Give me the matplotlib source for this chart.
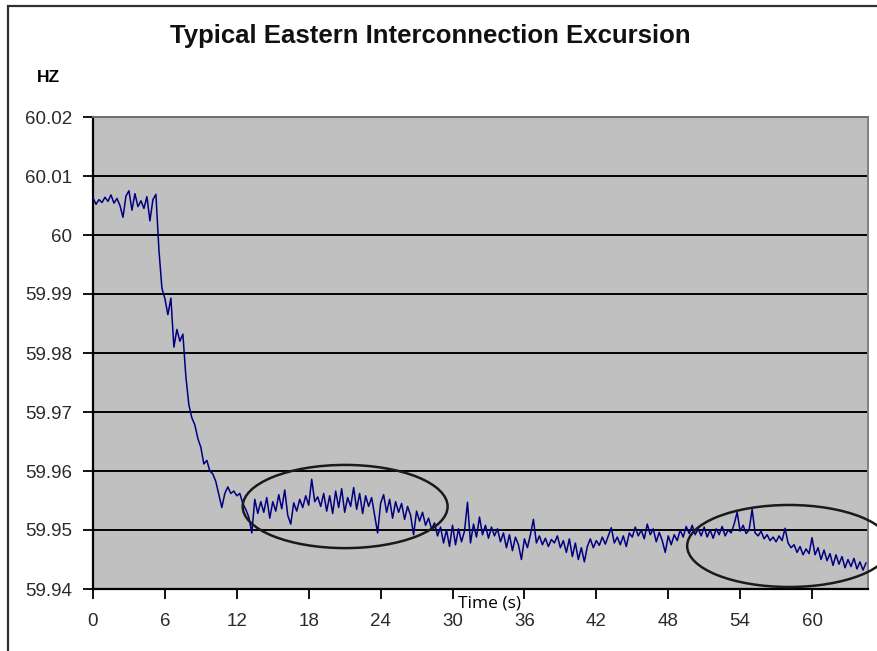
import numpy as np
import matplotlib
matplotlib.use("Agg")
import matplotlib.pyplot as plt
from matplotlib.patches import Ellipse, Rectangle

# frequency samples (Hz), one every 0.25 s starting at t = 0
freq_start = [60.0063, 60.0052, 60.0060, 60.0055, 60.0064, 60.0057, 60.0068, 60.0054,
              60.0062, 60.0050, 60.0030, 60.0066, 60.0075, 60.0042, 60.0070, 60.0048,
              60.0058, 60.0045, 60.0065, 60.0024, 60.0060, 60.0069]
freq_drop = [59.9975, 59.9910, 59.9892, 59.9865, 59.9893, 59.9810, 59.9840, 59.9820,
             59.9832, 59.9760, 59.9712, 59.9690, 59.9678, 59.9655, 59.9640, 59.9612,
             59.9618, 59.9600, 59.9595, 59.9582, 59.9560, 59.9538, 59.9562, 59.9573,
             59.9562, 59.9566, 59.9558, 59.9562, 59.9545, 59.9535, 59.9522, 59.9495]
freq_plateau = [59.9552, 59.9528, 59.9548, 59.9530, 59.9555, 59.9520, 59.9548, 59.9532,
                59.9560, 59.9536, 59.9568, 59.9525, 59.9510, 59.9546, 59.9532, 59.9552,
                59.9538, 59.9558, 59.9542, 59.9586, 59.9548, 59.9556, 59.9540, 59.9562,
                59.9532, 59.9558, 59.9528, 59.9566, 59.9538, 59.9570, 59.9530, 59.9555,
                59.9540, 59.9572, 59.9535, 59.9562, 59.9528, 59.9558, 59.9540, 59.9555,
                59.9525, 59.9495, 59.9545, 59.9560, 59.9530, 59.9552, 59.9520, 59.9548,
                59.9530, 59.9545, 59.9518, 59.9540, 59.9525, 59.9492, 59.9532, 59.9515,
                59.9530, 59.9508, 59.9520, 59.9502, 59.9512, 59.9490]
freq_tail = [59.9505, 59.9478, 59.9500, 59.9472, 59.9508, 59.9475, 59.9502, 59.9480,
             59.9498, 59.9547, 59.9478, 59.9510, 59.9488, 59.9522, 59.9492, 59.9508,
             59.9486, 59.9505, 59.9490, 59.9502, 59.9480, 59.9495, 59.9470, 59.9492,
             59.9465, 59.9488, 59.9475, 59.9450, 59.9485, 59.9470, 59.9492, 59.9518,
             59.9478, 59.9490, 59.9475, 59.9486, 59.9472, 59.9484, 59.9478, 59.9490,
             59.9470, 59.9482, 59.9462, 59.9485, 59.9455, 59.9478, 59.9450, 59.9470,
             59.9446, 59.9472, 59.9485, 59.9470, 59.9482, 59.9474, 59.9488, 59.9476,
             59.9490, 59.9504, 59.9478, 59.9488, 59.9475, 59.9490, 59.9472, 59.9495,
             59.9488, 59.9505, 59.9490, 59.9500, 59.9485, 59.9510, 59.9492, 59.9502,
             59.9480, 59.9496, 59.9482, 59.9462, 59.9490, 59.9475, 59.9492, 59.9482,
             59.9500, 59.9488, 59.9506, 59.9494, 59.9508, 59.9492, 59.9502, 59.9490,
             59.9505, 59.9488, 59.9500, 59.9486, 59.9502, 59.9492, 59.9506, 59.9490,
             59.9500, 59.9495, 59.9510, 59.9530, 59.9498, 59.9508, 59.9494, 59.9500,
             59.9535, 59.9495, 59.9490, 59.9498, 59.9485, 59.9492, 59.9482, 59.9488,
             59.9480, 59.9490, 59.9482, 59.9503, 59.9478, 59.9470, 59.9475, 59.9462,
             59.9472, 59.9458, 59.9468, 59.9460, 59.9487, 59.9458, 59.9470, 59.9450,
             59.9466, 59.9448, 59.9460, 59.9440, 59.9458, 59.9442, 59.9455, 59.9436,
             59.9450, 59.9438, 59.9452, 59.9434, 59.9446, 59.9432, 59.9444]
freq = np.array(freq_start + freq_drop + freq_plateau + freq_tail)
t = np.arange(len(freq)) * 0.25

x_ticks = [0, 6, 12, 18, 24, 30, 36, 42, 48, 54, 60]
y_ticks = [59.94, 59.95, 59.96, 59.97, 59.98, 59.99, 60.00, 60.01, 60.02]
y_labels = ['59.94', '59.95', '59.96', '59.97', '59.98', '59.99', '60', '60.01', '60.02']

# circled regions: (centre t, centre Hz, width s, height Hz)
circles = [(21.04, 59.95398, 17.1, 0.0141),
           (58.08, 59.94729, 17.0, 0.0139)]

W, H = 878, 651
fig = plt.figure(figsize=(W / 100, H / 100), dpi=100)
ax = fig.add_axes([93 / W, 1 - 589 / H, (868 - 93) / W, (589 - 117) / H])
ax.set_facecolor('#c0c0c0')

for yv in y_ticks[1:]:
    ax.axhline(yv, color='black', lw=1.4, zorder=1)

ax.plot(t, freq, color='#000080', lw=1.1, zorder=3)

for cx, cy, w, h in circles:
    ax.add_patch(Ellipse((cx, cy), w, h, fill=False, edgecolor='#1a1a1a',
                         lw=1.8, zorder=4, clip_on=False))

ax.set_xlim(0, 64.67)
ax.set_ylim(59.94, 60.02)
ax.set_xticks(x_ticks)
ax.set_yticks(y_ticks)
ax.set_yticklabels(y_labels)

sans = ['Liberation Sans', 'DejaVu Sans']
for lab in ax.get_xticklabels() + ax.get_yticklabels():
    lab.set_fontfamily(sans)
    lab.set_fontsize(13.5)
    lab.set_color('#2a2a2a')
ax.tick_params(axis='x', length=7, width=1.3, pad=10, direction='out')
ax.tick_params(axis='y', length=7, width=1.3, pad=8, direction='out')

ax.spines['left'].set_linewidth(1.6)
ax.spines['bottom'].set_linewidth(1.6)
ax.spines['top'].set_color('#707070')
ax.spines['right'].set_color('#808080')
ax.spines['top'].set_linewidth(1.4)
ax.spines['right'].set_linewidth(1.4)

fig.text(430 / W, 1 - 36 / H, 'Typical Eastern Interconnection Excursion',
         ha='center', va='center', fontsize=18.5, fontweight='bold',
         family=sans, color='#111111')
fig.text(37 / W, 1 - 78 / H, 'HZ', ha='left', va='center', fontsize=12.5,
         fontweight='bold', family=sans)
fig.text(490 / W, 1 - 603 / H, 'Time (s)', ha='center', va='center', fontsize=12.5,
         family=['Open Sans', 'DejaVu Sans'])

# outer chart frame (only left and top edges fall inside the picture)
fig.patches.append(Rectangle((8 / W, -0.1), 1.2, 1.1 - 6 / H, transform=fig.transFigure,
                             fill=False, edgecolor='#303030', lw=1.6))

fig.savefig('out.png', dpi=100)
